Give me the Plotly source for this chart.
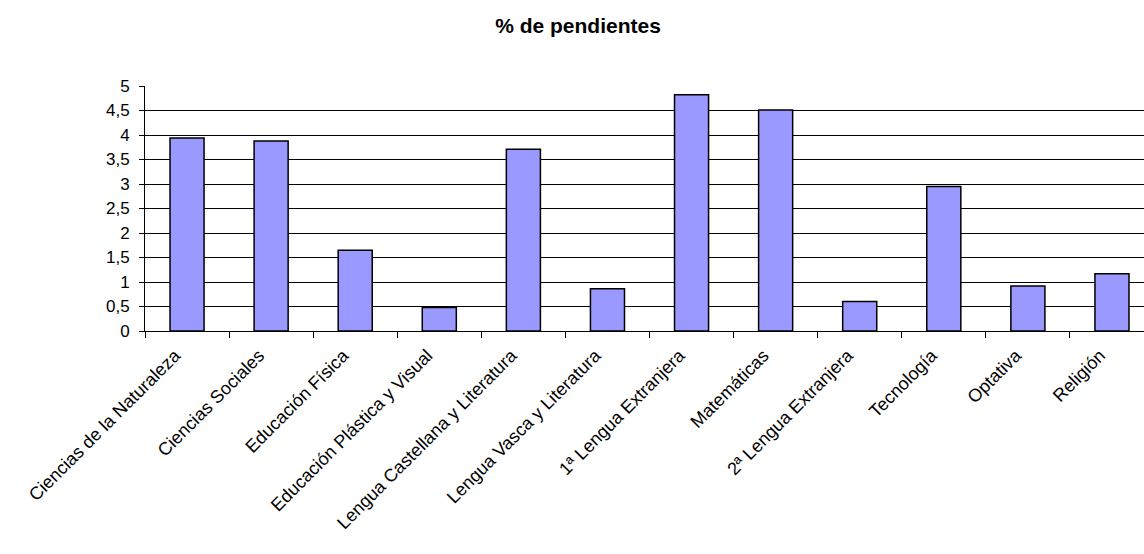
import plotly.graph_objects as go

categories = [
    "Ciencias de la Naturaleza",
    "Ciencias Sociales",
    "Educación Física",
    "Educación Plástica y Visual",
    "Lengua Castellana y Literatura",
    "Lengua Vasca y Literatura",
    "1ª Lengua Extranjera",
    "Matemáticas",
    "2ª Lengua Extranjera",
    "Tecnología",
    "Optativa",
    "Religión",
]
values = [3.94, 3.88, 1.65, 0.48, 3.71, 0.86, 4.82, 4.51, 0.60, 2.95, 0.92, 1.17]
y_ticks = [0, 0.5, 1, 1.5, 2, 2.5, 3, 3.5, 4, 4.5, 5]

font_family = "Liberation Sans, Arial, sans-serif"

fig = go.Figure(
    go.Bar(
        x=categories,
        y=values,
        width=0.405,
        marker=dict(color="#9999FF", line=dict(color="black", width=1.5)),
    )
)

fig.update_layout(
    width=1144,
    height=554,
    margin=dict(l=145, r=0, t=86, b=223),
    paper_bgcolor="white",
    plot_bgcolor="white",
    separators=",.",
    showlegend=False,
    font=dict(family=font_family, size=17, color="black"),
    title=dict(
        text="<b>% de pendientes</b>",
        x=578 / 1144,
        xanchor="center",
        y=1 - 26 / 554,
        yanchor="middle",
        font=dict(family=font_family, size=21, color="black"),
    ),
)

fig.update_xaxes(
    range=[-0.5, 11.5 - 10 / 84],
    tickangle=-45,
    tickson="boundaries",
    ticks="outside",
    ticklen=6,
    tickcolor="black",
    ticklabelshift=-12,
    ticklabelstandoff=6,
    showline=True,
    linecolor="black",
    linewidth=1,
    showgrid=False,
    tickfont=dict(family=font_family, size=18, color="black"),
)

fig.update_yaxes(
    range=[0, 5],
    tickvals=y_ticks,
    ticks="outside",
    ticklen=5,
    tickcolor="black",
    ticklabelstandoff=6,
    showline=True,
    linecolor="black",
    linewidth=1,
    showgrid=True,
    gridcolor="black",
    gridwidth=1,
    zeroline=False,
    tickfont=dict(family=font_family, size=17, color="black"),
)

fig.write_html(
    "out.html",
    config={"displayModeBar": False},
    post_script="document.body.style.margin='0';document.body.style.overflow='hidden';",
)
